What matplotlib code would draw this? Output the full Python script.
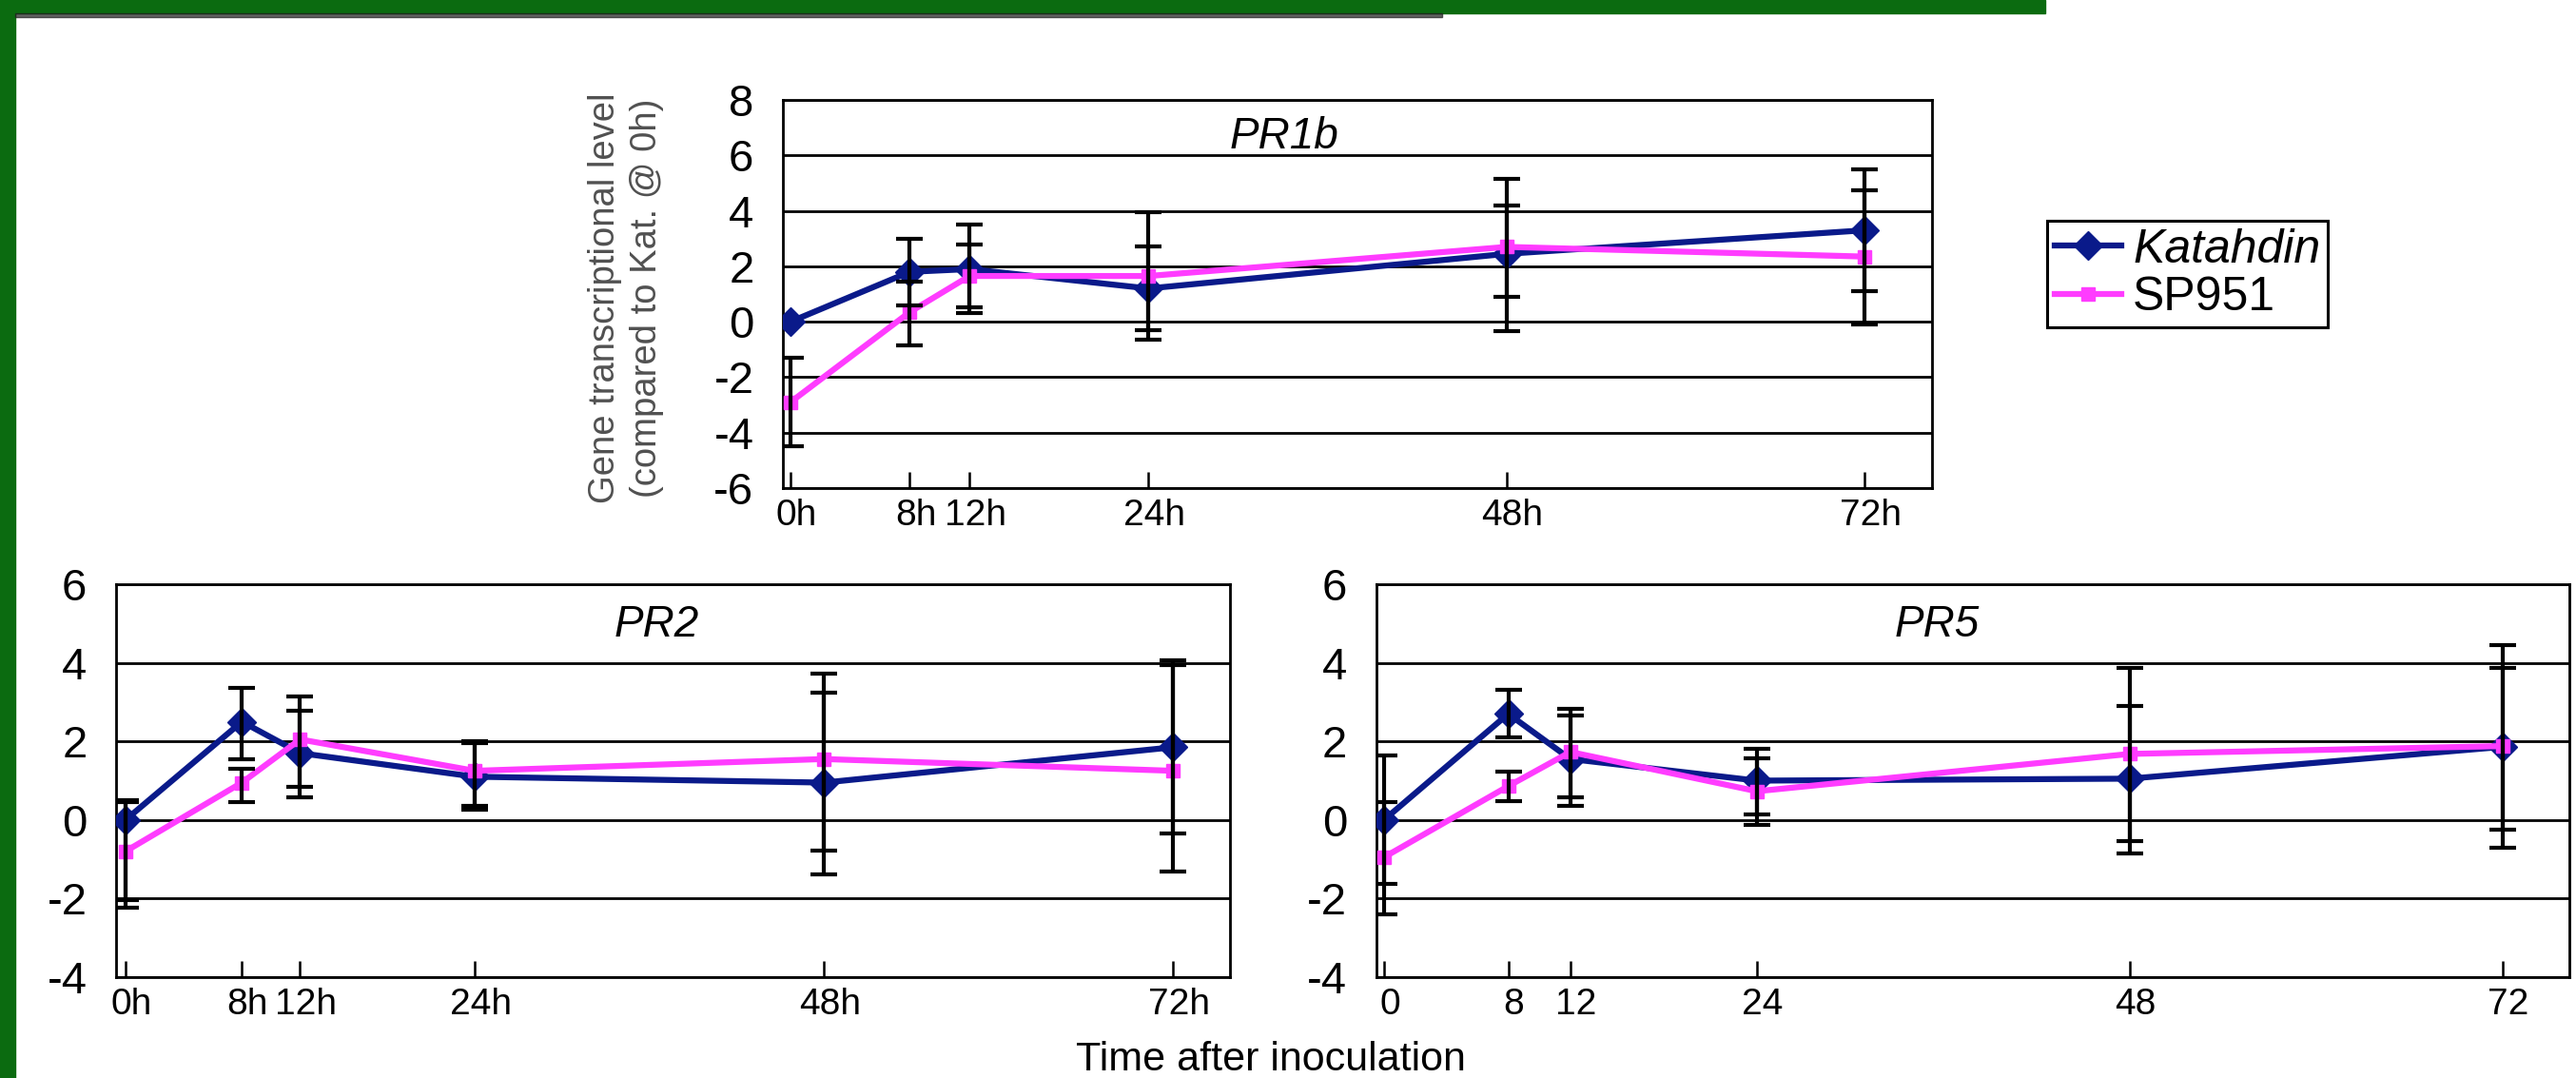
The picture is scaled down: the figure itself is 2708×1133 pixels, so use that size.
import matplotlib
matplotlib.use('Agg')
import matplotlib.pyplot as plt
from matplotlib.patches import Rectangle
from matplotlib.transforms import ScaledTranslation

plt.rcParams['font.family'] = ['Liberation Sans', 'DejaVu Sans']
plt.rcParams['axes.unicode_minus'] = False

# sampling times (hours after inoculation)
hours = [0, 8, 12, 24, 48, 72]
hour_labels = ['0h', '8h', '12h', '24h', '48h', '72h']
plain_labels = ['0', '8', '12', '24', '48', '72']

# PR1b
pr1b_kat = [0.0, 1.8, 1.9, 1.2, 2.45, 3.3]
pr1b_kat_lo = [0.0, 1.2, 1.6, 1.5, 2.8, 3.4]
pr1b_kat_hi = [0.0, 1.2, 1.6, 1.5, 2.7, 2.2]
pr1b_sp = [-2.9, 0.35, 1.65, 1.65, 2.7, 2.35]
pr1b_sp_lo = [1.6, 1.2, 1.13, 2.3, 1.8, 1.25]
pr1b_sp_hi = [1.6, 1.1, 1.13, 2.3, 1.5, 2.4]

# PR2
pr2_kat = [0.0, 2.5, 1.7, 1.1, 0.95, 1.85]
pr2_kat_lo = [2.05, 0.95, 1.13, 0.85, 2.33, 2.2]
pr2_kat_hi = [0.45, 0.87, 1.07, 0.85, 2.78, 2.1]
pr2_sp = [-0.8, 0.95, 2.05, 1.25, 1.55, 1.25]
pr2_sp_lo = [1.43, 0.5, 1.2, 0.9, 2.33, 2.56]
pr2_sp_hi = [1.3, 0.35, 1.08, 0.75, 1.7, 2.82]

# PR5
pr5_kat = [0.0, 2.7, 1.55, 1.0, 1.05, 1.86]
pr5_kat_lo = [1.64, 0.6, 1.2, 0.85, 1.91, 2.1]
pr5_kat_hi = [1.64, 0.6, 1.1, 0.82, 1.86, 2.0]
pr5_sp = [-0.95, 0.86, 1.73, 0.73, 1.68, 1.88]
pr5_sp_lo = [1.45, 0.37, 1.15, 0.85, 2.23, 2.6]
pr5_sp_hi = [1.4, 0.37, 1.1, 0.85, 2.18, 2.57]

NAVY = '#0a1a8a'
PINK = '#ff3cff'


def draw_panel(ax, kat, kat_lo, kat_hi, sp, sp_lo, sp_hi, title, ylim, xlim,
               xlabels, title_pos):
    ax.set_xlim(*xlim)
    ax.set_ylim(*ylim)
    ax.set_yticks(range(ylim[0], ylim[1] + 1, 2))
    ax.yaxis.grid(True, color='black', linewidth=2.0, zorder=0)
    ax.set_axisbelow(True)

    l1, = ax.plot(hours, kat, color=NAVY, lw=4.5, marker='D', ms=15, zorder=3)
    l2, = ax.plot(hours, sp, color=PINK, lw=4.5, marker='s', ms=10, zorder=3.2)

    for vals, lo, hi in [(kat, kat_lo, kat_hi), (sp, sp_lo, sp_hi)]:
        idx = [i for i in range(len(hours)) if lo[i] or hi[i]]
        ax.errorbar([hours[i] for i in idx], [vals[i] for i in idx],
                    yerr=[[lo[i] for i in idx], [hi[i] for i in idx]],
                    fmt='none', ecolor='black', elinewidth=3,
                    capsize=10, capthick=3, zorder=4)

    ax.set_xticks(hours)
    ax.set_xticklabels(xlabels, fontsize=28)
    ax.tick_params(axis='x', direction='in', length=12, width=1.8, pad=8)
    ax.tick_params(axis='y', length=0, pad=22, labelsize=34)
    shift = ScaledTranslation(6 / 100, 0, ax.figure.dpi_scale_trans)
    for lab in ax.get_xticklabels():
        lab.set_transform(lab.get_transform() + shift)
    for sp_ in ax.spines.values():
        sp_.set_linewidth(2.0)
        sp_.set_color('black')

    ax.text(title_pos[0], title_pos[1], title, transform=ax.transAxes,
            ha='center', va='center', fontsize=33, style='italic')
    return l1, l2


fig = plt.figure(figsize=(27.08, 11.33), dpi=100)

# green frame of the slide
fig.patches.append(Rectangle((0, 0), 16 / 2708, 1, transform=fig.transFigure,
                             color='#0b6b10', zorder=0))
fig.patches.append(Rectangle((0, 1 - 14 / 1133), 2150 / 2708, 14 / 1133,
                             transform=fig.transFigure, color='#0b6b10', zorder=0))
fig.patches.append(Rectangle((16 / 2708, 1 - 18 / 1133), 1500 / 2708, 4 / 1133,
                             transform=fig.transFigure, color='#202020', alpha=0.7, zorder=0))

ax_top = fig.add_axes([0.3039, 0.5472, 0.4461, 0.3601])
ax_pr2 = fig.add_axes([0.04505, 0.0936, 0.4324, 0.3645])
ax_pr5 = fig.add_axes([0.5343, 0.0936, 0.4631, 0.3645])

h1, h2 = draw_panel(ax_top, pr1b_kat, pr1b_kat_lo, pr1b_kat_hi,
                    pr1b_sp, pr1b_sp_lo, pr1b_sp_hi, 'PR1b',
                    (-6, 8), (-0.51, 76.5), hour_labels, (0.436, 0.905))
draw_panel(ax_pr2, pr2_kat, pr2_kat_lo, pr2_kat_hi,
           pr2_sp, pr2_sp_lo, pr2_sp_hi, 'PR2',
           (-4, 6), (-0.65, 75.9), hour_labels, (0.485, 0.895))
draw_panel(ax_pr5, pr5_kat, pr5_kat_lo, pr5_kat_hi,
           pr5_sp, pr5_sp_lo, pr5_sp_hi, 'PR5',
           (-4, 6), (-0.49, 76.3), plain_labels, (0.47, 0.895))

fig.text(658 / 2708, 1 - 313 / 1133,
         'Gene transcriptional level\n(compared to Kat. @ 0h)',
         rotation=90, ha='center', va='center', fontsize=27.5,
         color='#505050', linespacing=1.3)
fig.text(1336 / 2708, 1 - 1114 / 1133, 'Time after inoculation',
         ha='center', va='center', fontsize=31)

leg = fig.legend([h1, h2], ['Katahdin', 'SP951'], loc='upper left',
                 bbox_to_anchor=(2152 / 2708, 1 - 232 / 1133),
                 fontsize=36, frameon=True, fancybox=False, framealpha=1,
                 edgecolor='black', handlelength=1.4, handletextpad=0.25,
                 borderpad=0.15, labelspacing=0.1, borderaxespad=0)
leg.get_frame().set_linewidth(2.2)
leg.get_texts()[0].set_style('italic')

fig.savefig('out.png', dpi=100)
